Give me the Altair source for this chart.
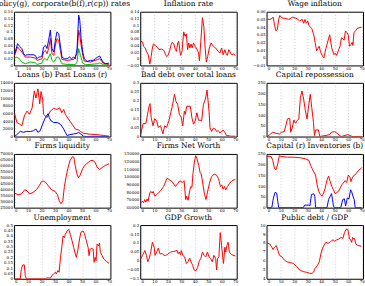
import altair as alt
import pandas as pd

# ---------------- data ----------------
# Panel 1: Policy(g), corporate(b(f),r(cp)) rates
p1_blue_x = [0, 1.2, 2.2, 3.7, 5.4, 6.7, 7.9, 9.7, 11.6, 13.6, 15.3, 16.6, 17.8, 19.1, 20.3, 21.5, 22.8, 24, 25.2, 26.5, 27.7, 29, 30.2, 31.4, 32.7, 33.9, 35.1, 36.9, 38.9, 40.8, 42.1, 43.8, 45, 46.3, 47.5, 48.3, 49.3, 50.5, 51.7, 53.7, 56.2, 58.2, 59.9, 61.6, 63.1, 64.1, 65.6, 67.3, 70]
p1_blue_y = [0.035, 0.050, 0.065, 0.057, 0.050, 0.035, 0.030, 0.032, 0.032, 0.032, 0.030, 0.020, 0.025, 0.025, 0.028, 0.055, 0.060, 0.050, 0.075, 0.105, 0.050, 0.040, 0.075, 0.100, 0.095, 0.060, 0.025, 0.020, 0.020, 0.025, 0.020, 0.025, 0.020, 0.050, 0.150, 0.135, 0.080, 0.040, 0.020, 0.012, 0.015, 0.015, 0.020, 0.025, 0.028, 0.020, 0.010, 0.005, 0.007]
p1_red_x = [0, 2.2, 5.4, 7.9, 11.6, 15.3, 16.6, 20.3, 21.5, 22.8, 24, 25.2, 26.5, 27.7, 29, 30.2, 31.4, 32.7, 33.9, 35.1, 38.9, 43.8, 46.3, 47.5, 48.3, 49.3, 50.5, 51.7, 56.2, 61.6, 63.1, 65.6, 70]
p1_red_y = [0.030, 0.055, 0.040, 0.025, 0.025, 0.022, 0.015, 0.020, 0.040, 0.045, 0.035, 0.050, 0.080, 0.035, 0.030, 0.060, 0.080, 0.075, 0.045, 0.018, 0.015, 0.018, 0.035, 0.105, 0.090, 0.060, 0.030, 0.013, 0.010, 0.018, 0.020, 0.007, 0.003]
p1_green_x = [0, 1.2, 3, 5.4, 7.9, 11.6, 15.3, 16.6, 20.3, 21.5, 22.8, 24, 26.5, 27.7, 29, 31.4, 32.7, 35.1, 38.9, 45, 46.3, 47.5, 48.8, 50.5, 52.5, 61.6, 63.1, 66, 70]
p1_green_y = [0.020, 0.025, 0.022, 0.010, 0.005, 0.010, 0.008, 0.003, 0.007, 0.018, 0.020, 0.015, 0.035, 0.015, 0.010, 0.025, 0.025, 0.005, 0.003, 0.003, 0.010, 0.050, 0.030, 0.007, 0.002, 0.005, 0.008, 0.002, 0.001]

# Panel 2: Inflation rate
p2_x = [0, 1.2, 2.0, 3.2, 4.1, 5.4, 6.6, 7.6, 8.5, 9.3, 10.5, 12.2, 13.4, 15.4, 17.1, 18.3, 19.0, 20.0, 21.2, 22.4, 23.2, 24.4, 25.6, 26.3, 27.3, 28.0, 29.3, 30.5, 31.7, 32.7, 33.7, 34.6, 35.4, 36.3, 37.1, 38.0, 39.0, 40.2, 41.7, 42.7, 43.4, 44.4, 45.6, 46.6, 47.6, 48.5, 49.5, 50.7, 52.0, 53.7, 55.4, 57.3, 58.5, 59.8, 61.0, 62.2, 63.2, 64.1, 65.1, 66.1, 67.1, 68.5, 70]
p2_y = [0.052, 0.050, 0.037, 0.032, 0.022, 0.012, -0.016, 0.007, 0.032, 0.044, 0.040, 0.034, 0.027, 0.029, 0.024, 0.012, 0.007, 0.009, 0.022, 0.042, 0.049, 0.044, 0.027, 0.022, 0.047, 0.052, 0.010, 0.022, 0.080, 0.067, 0.074, 0.027, 0.047, 0.032, 0.044, 0.032, 0.047, 0.037, 0.027, 0.017, -0.006, 0.052, 0.122, 0.097, 0.032, -0.010, 0.007, 0.032, 0.047, 0.037, 0.032, 0.022, 0.017, 0.032, 0.012, 0.027, 0.014, 0.010, 0.027, 0.020, 0.012, 0.014, 0.010]

# Panel 3: Wage inflation
p3_x = [0, 2, 3.5, 4.4, 5.5, 6.5, 7.5, 8.5, 9.3, 11, 14, 16, 19, 22, 24, 26, 27, 28, 29, 30, 31, 32, 33, 34.5, 35.5, 36.6, 37.5, 38.5, 39.5, 41, 42, 43.5, 45, 46.3, 47, 47.8, 49.5, 50.5, 51.5, 53, 54, 55, 56, 57, 58, 59, 60, 61, 62, 63, 63.5, 64.3, 65.5, 66.5, 68, 70]
p3_y = [0.050, 0.050, 0.051, 0.053, 0.042, 0.035, 0.037, 0.050, 0.055, 0.052, 0.051, 0.050, 0.053, 0.051, 0.048, 0.050, 0.045, 0.050, 0.045, 0.048, 0.042, 0.040, 0.038, 0.030, 0.020, 0.009, 0.012, 0.015, 0.008, 0.002, 0.000, 0.012, 0.022, 0.030, 0.022, 0.013, 0.004, 0.006, 0.003, 0.011, 0.015, 0.026, 0.025, 0.023, 0.035, 0.033, 0.030, 0.015, 0.017, 0.020, 0.016, 0.033, 0.035, 0.038, 0.039, 0.040]

# Panel 4: Loans (b) Past Loans (r)
p4_red_x = [0, 1.7, 3.7, 5.4, 7.2, 9.2, 11, 13, 14.6, 15.8, 17.3, 18.6, 19.6, 20.8, 21.5, 24, 26.5, 29, 31.4, 33.4, 35, 36.4, 37.6, 40, 42.6, 45, 47.5, 49, 51, 56, 61, 66, 70]
p4_red_y = [5960, 3660, 3230, 2810, 5360, 6640, 5790, 7490, 11910, 10040, 12430, 8510, 11740, 9620, 5790, 4940, 6640, 7320, 7060, 7490, 6210, 7060, 5790, 4510, 3230, 1960, 1700, 1280, 850, 600, 510, 260, 100]
p4_blue_x = [0, 1.7, 4.2, 6.7, 9, 11.6, 14, 15.8, 17.3, 19, 20.3, 22.8, 24.8, 25.7, 27, 29, 31.4, 34, 36.4, 37.6, 38.9, 41, 43.8, 46.3, 47.5, 49, 51, 53, 70]
p4_blue_y = [0, 510, 1360, 1110, 1360, 1280, 1530, 1960, 1110, 1530, 2810, 4940, 5960, 4940, 4090, 3660, 3660, 3230, 1960, 1110, 260, 510, 680, 850, 1110, 680, 100, 0, 0]

# Panel 5: Bad debt over total loans
p5_x = [0, 0.7, 1.7, 3.7, 4.9, 6, 6.8, 7.6, 9, 10.2, 11.7, 12.9, 14.6, 16.3, 17.6, 19, 20.7, 22.4, 23.7, 24.9, 26, 27.3, 28.5, 29.8, 31, 32.2, 32.9, 34, 36.6, 37.8, 39, 40.2, 41.5, 42.7, 43.9, 45, 46.3, 48, 49, 50.5, 51.2, 52.4, 53.7, 55, 56, 57.3, 58.5, 59.8, 61, 62.2, 63.4, 64.6, 67, 70]
p5_y = [0.015, 0.042, 0.073, 0.073, 0.124, 0.169, 0.184, 0.105, 0.060, 0.100, 0.087, 0.051, 0.060, 0.015, 0.060, 0.051, 0.087, 0.142, 0.187, 0.236, 0.196, 0.178, 0.124, 0.109, 0.060, 0.142, 0.124, 0.169, 0.169, 0.105, 0.069, 0.087, 0.133, 0.091, 0.091, 0.087, 0.178, 0.215, 0.260, 0.142, 0.051, 0.029, 0.047, 0.042, 0.029, 0.033, 0.020, 0.029, 0.036, 0.024, 0.005, 0.005, 0.002, 0.002]

# Panel 6: Capital repossession
p6_x = [0, 1.7, 4.1, 6.5, 9, 10.6, 12.6, 13.8, 15, 16.7, 17.4, 18.6, 19.8, 21, 22.2, 23.4, 24.6, 25.8, 27, 28.3, 29.5, 30.7, 31.9, 33, 34.3, 35, 36, 37.9, 39, 46.4, 47.6, 50, 52.4, 54.8, 59.7, 61.4, 63, 70]
p6_y = [0, 8, 20, 15, 12, 20, 23, 51, 82, 85, 20, 43, 77, 62, 74, 82, 182, 212, 174, 120, 82, 143, 197, 135, 66, 5, 31, 31, 0, 9, 20, 23, 12, 0, 9, 5, 0, 0]

# Panel 7: Firms liquidity
p7_x = [0, 2.5, 5, 7.5, 9.2, 11.2, 13.7, 16.2, 18.2, 20, 21.2, 23.2, 25, 27.4, 30, 31.7, 33.2, 34.4, 35.7, 36.9, 38.2, 39.4, 41.1, 42.9, 43.9, 44.9, 46.1, 47.4, 48.6, 50.4, 52.4, 54.9, 56.6, 58.1, 59.6, 61.1, 63.1, 64.8, 67.3, 70]
p7_y = [37260, 35900, 36440, 39990, 39170, 36440, 37810, 39990, 43260, 46800, 47340, 45980, 43260, 39990, 38620, 35900, 30450, 28270, 30450, 42710, 50890, 57700, 64510, 67780, 67230, 60420, 53610, 50070, 52250, 57700, 60970, 63150, 64510, 64510, 63150, 59060, 56880, 58520, 60420, 61780]

# Panel 8: Firms Net Worth
p8_x = [0, 1, 2, 2.8, 3.6, 4.6, 5.3, 6.6, 7.4, 8.4, 9.1, 10.4, 11.7, 14.2, 16.8, 19.3, 20.6, 23.1, 25.6, 27.4, 28.9, 30.7, 32, 33.2, 34, 35, 36.3, 37, 37.8, 38.6, 39.6, 40.6, 41.6, 42.9, 43.9, 44.7, 46, 47.2, 48.2, 49.2, 50.8, 52.3, 54.3, 56.1, 57.4, 58.1, 58.9, 59.9, 60.9, 61.9, 62.9, 64.2, 65.7, 67.5, 70]
p8_y = [66360, 68470, 66360, 70590, 67200, 71440, 68470, 79070, 81190, 79070, 81190, 74830, 76950, 81190, 87540, 98140, 96860, 93900, 87540, 91780, 95170, 92630, 95170, 70590, 74830, 69750, 83310, 87540, 86270, 104490, 119320, 127800, 123560, 115080, 105340, 104490, 89660, 76950, 70590, 79070, 91780, 100250, 103640, 102370, 98140, 93900, 87540, 89660, 84150, 87540, 83310, 87540, 91780, 95170, 96860]

# Panel 9: Capital (r) Inventories (b)
p9_red_x = [0, 2.9, 4.1, 5.4, 6.6, 7.8, 9, 10.2, 15, 20, 24.8, 28.5, 30.9, 32.1, 33.3, 34.5, 35.8, 37, 38.2, 39.4, 40.6, 41.8, 43, 44.3, 45.5, 46.7, 47.9, 49.1, 50.4, 51.6, 52.8, 54, 55.2, 56.4, 57.7, 58.9, 60.1, 61.3, 62, 63.3, 65, 67.4, 70]
p9_red_y = [239, 238, 220, 182, 177, 205, 242, 238, 235, 235, 232, 227, 220, 197, 182, 167, 152, 106, 76, 61, 53, 68, 91, 129, 147, 121, 98, 83, 65, 71, 76, 91, 106, 114, 126, 117, 152, 141, 121, 144, 152, 171, 186]
p9_blue_x = [0, 3.4, 4.6, 5.8, 7, 7.8, 8.5, 26.8, 27.7, 30.9, 31.6, 32.8, 34.5, 35.3, 35.8, 44.3, 45.5, 46.7, 47.7, 48.4, 49.1, 49.8, 54.5, 56, 57.2, 58.1, 59.4, 60.6, 61.8, 62.5, 63.7, 64.5, 65.2, 70]
p9_blue_y = [0, 0, 45, 71, 68, 30, 0, 0, 12, 12, 8, 61, 65, 53, 0, 0, 38, 53, 65, 38, 8, 0, 0, 38, 41, 8, 45, 41, 83, 76, 50, 38, 0, 0]

# Panel 10: Unemployment
p10_x = [0, 4.2, 5, 6, 7.2, 7.9, 8.7, 22.8, 24, 26.5, 27.7, 29, 30.2, 30.9, 32.2, 33, 34, 35.1, 35.9, 36.9, 37.6, 38.9, 40.1, 41.3, 42.6, 43.8, 45, 45.8, 46.8, 48.3, 49.3, 50.7, 51.7, 53.2, 54.5, 55.2, 56, 57.2, 58.2, 58.9, 59.7, 60.4, 61.1, 62.1, 62.9, 63.6, 64.9, 66.1, 68.1, 70]
p10_y = [0, 0, 0.092, 0.129, 0.129, 0.031, 0, 0, 0.009, 0.006, 0.031, 0.046, 0.061, 0.046, 0.077, 0.061, 0.199, 0.307, 0.399, 0.383, 0.414, 0.445, 0.460, 0.414, 0.353, 0.291, 0.230, 0.199, 0.261, 0.383, 0.436, 0.445, 0.423, 0.353, 0.291, 0.215, 0.276, 0.282, 0.276, 0.153, 0.199, 0.169, 0.322, 0.307, 0.331, 0.245, 0.215, 0.184, 0.160, 0.144]

# Panel 11: GDP Growth
p11_x = [0, 1.2, 2.9, 4.1, 5.1, 6.1, 7.3, 8.5, 9.8, 10.5, 11.7, 12.9, 14.1, 15.9, 17.1, 18.3, 19.5, 22, 24.4, 26.8, 27.6, 28.5, 29.3, 30, 31, 32.4, 33.7, 34.9, 36.1, 37.1, 38.3, 39.5, 40.7, 42, 43.2, 44.4, 45.6, 46.8, 48, 49.3, 50.5, 51.7, 52.9, 54.1, 55.4, 56.1, 56.8, 57.8, 58.8, 59.8, 60.5, 61.2, 62.2, 62.9, 63.7, 64.6, 65.6, 67.1, 70]
p11_y = [0.013, 0.031, 0.058, 0.031, -0.005, 0.013, 0.049, 0.104, 0.076, 0.031, 0.049, 0.071, 0.040, 0.040, 0.031, 0.031, 0.035, 0.049, 0.053, 0.058, 0.040, 0.049, 0.035, 0.058, 0.031, 0.022, -0.015, -0.005, 0.016, -0.005, -0.024, -0.051, -0.056, -0.038, -0.002, 0.013, 0.049, 0.031, 0.022, 0.049, 0.022, 0.013, -0.005, 0.031, 0.013, -0.051, 0.013, 0.022, 0.158, 0.085, 0.031, -0.015, 0.076, 0.049, 0.085, 0.104, 0.049, 0.035, 0.027]

# Panel 12: Public debt / GDP
p12_x = [0, 1.9, 3.4, 4.3, 5.5, 6.7, 7.9, 9.1, 11, 12.9, 14.6, 17, 19.4, 21.8, 24.2, 26.6, 29, 31.4, 33.1, 34.3, 35.5, 37.4, 38.6, 39.8, 41, 42.2, 43.4, 45.1, 46.5, 47.7, 48.9, 49.9, 51.3, 53, 54.7, 56.1, 57.3, 58.5, 59.7, 60.4, 60.9, 61.9, 62.6, 63.3, 64, 64.7, 65.7, 67.4, 70]
p12_y = [8.0, 7.89, 7.53, 7.27, 7.53, 7.71, 7.16, 6.62, 6.44, 6.07, 5.89, 5.82, 5.71, 5.35, 4.98, 4.80, 4.73, 4.62, 4.58, 4.73, 5.16, 5.53, 5.89, 6.80, 7.42, 7.78, 8.07, 7.96, 8.07, 8.25, 8.36, 8.18, 8.33, 8.44, 8.62, 8.51, 9.16, 9.53, 9.53, 8.98, 8.44, 8.36, 8.07, 8.62, 8.44, 8.51, 7.89, 7.71, 7.64]

RED, BLUE, GREEN = "#ff0000", "#0000ff", "#00c000"
SERIF = "DejaVu Serif"


def frame(series):
    rows = []
    for name, xs, ys in series:
        for a, b in zip(xs, ys):
            rows.append({"x": a, "y": b, "s": name})
    return pd.DataFrame(rows)


def panel(title, series, colors, ydom, yticks, fmt):
    df = frame(series)
    names = [s[0] for s in series]
    return alt.Chart(df).mark_line(strokeWidth=1, clip=True).encode(
        x=alt.X("x:Q", scale=alt.Scale(domain=[-0.5, 71], nice=False, zero=False),
                axis=alt.Axis(values=list(range(0, 71, 10)), grid=True, gridDash=[1, 2],
                              gridColor="#999999", gridWidth=0.5, title=None, format="d",
                              labelFontSize=4, labelFont=SERIF, labelPadding=1, ticks=False)),
        y=alt.Y("y:Q", scale=alt.Scale(domain=ydom, nice=False, zero=False),
                axis=alt.Axis(values=yticks, grid=False, title=None, format=fmt,
                              labelFontSize=4, labelFont=SERIF, labelPadding=1.5, ticks=False)),
        color=alt.Color("s:N", scale=alt.Scale(domain=names, range=colors), legend=None),
    ).properties(width=97, height=54,
                 title=alt.TitleParams(title, font=SERIF, fontSize=7.5, fontWeight="normal",
                                       color="black", offset=2))


panels = [
    panel("Policy(g), corporate(b(f),r(cp)) rates",
          [("g", p1_green_x, p1_green_y), ("r", p1_red_x, p1_red_y), ("b", p1_blue_x, p1_blue_y)],
          [GREEN, RED, BLUE], [0, 0.16], [0, 0.02, 0.04, 0.06, 0.08, 0.1, 0.12, 0.14, 0.16], ".2~f"),
    panel("Inflation rate", [("r", p2_x, p2_y)], [RED], [-0.02, 0.14],
          [-0.02, 0, 0.02, 0.04, 0.06, 0.08, 0.1, 0.12, 0.14], ".2~f"),
    panel("Wage inflation", [("r", p3_x, p3_y)], [RED], [-0.01, 0.06],
          [-0.01, 0, 0.01, 0.02, 0.03, 0.04, 0.05, 0.06], ".2~f"),
    panel("Loans (b) Past Loans (r)",
          [("r", p4_red_x, p4_red_y), ("b", p4_blue_x, p4_blue_y)], [RED, BLUE], [0, 14000],
          list(range(0, 14001, 2000)), "d"),
    panel("Bad debt over total loans", [("r", p5_x, p5_y)], [RED], [0, 0.3],
          [0, 0.05, 0.1, 0.15, 0.2, 0.25, 0.3], ".2~f"),
    panel("Capital repossession", [("r", p6_x, p6_y)], [RED], [0, 250],
          [0, 50, 100, 150, 200, 250], "d"),
    panel("Firms liquidity", [("r", p7_x, p7_y)], [RED], [25000, 70000],
          list(range(25000, 70001, 5000)), "d"),
    panel("Firms Net Worth", [("r", p8_x, p8_y)], [RED], [60000, 130000],
          list(range(60000, 130001, 10000)), "d"),
    panel("Capital (r) Inventories (b)",
          [("r", p9_red_x, p9_red_y), ("b", p9_blue_x, p9_blue_y)], [RED, BLUE], [0, 250],
          [0, 50, 100, 150, 200, 250], "d"),
    panel("Unemployment", [("r", p10_x, p10_y)], [RED], [0, 0.5],
          [0, 0.05, 0.1, 0.15, 0.2, 0.25, 0.3, 0.35, 0.4, 0.45, 0.5], ".2~f"),
    panel("GDP Growth", [("r", p11_x, p11_y)], [RED], [-0.1, 0.2],
          [-0.1, -0.05, 0, 0.05, 0.1, 0.15, 0.2], ".2~f"),
    panel("Public debt / GDP", [("r", p12_x, p12_y)], [RED], [4, 10],
          [4, 5, 6, 7, 8, 9, 10], "d"),
]

chart = alt.concat(*panels, columns=3, spacing={"row": 17.5, "column": 30}, bounds="flush").properties(
    padding={"left": -7, "top": -1, "right": 0, "bottom": 0}, background="white"
).configure_view(stroke="black", strokeWidth=1).configure_axis(
    labelFont=SERIF, labelFontSize=4, labelColor="black",
    domain=False, minExtent=10, maxExtent=10
)

chart.save("out.html", embed_options={"renderer": "svg", "actions": False})
